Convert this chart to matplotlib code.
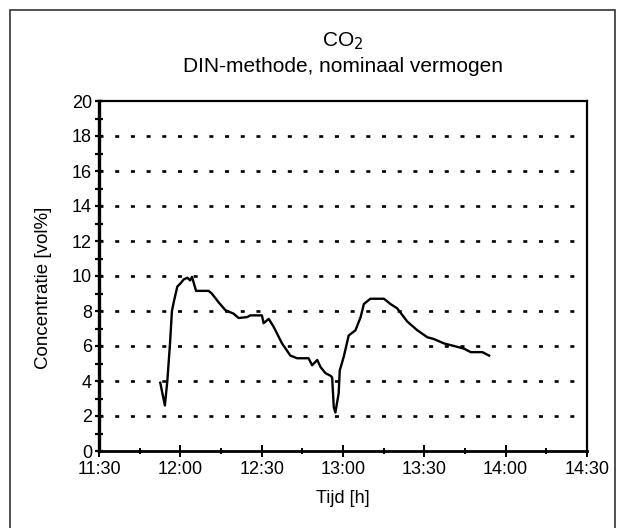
import numpy as np
import matplotlib
matplotlib.use('Agg')
import matplotlib.pyplot as plt
from matplotlib.patches import Rectangle
from matplotlib.ticker import MultipleLocator

plt.rcParams['font.family'] = ['Liberation Sans', 'DejaVu Sans']
plt.rcParams['font.size'] = 13
plt.rcParams['lines.scale_dashes'] = False

# meting: minuten na 11:30 en CO2-concentratie [vol%]
tijd_min = [22.6, 24.3, 25.2, 26.2, 26.9, 27.7, 28.9, 30.2, 31.2, 32.6, 33.6, 34.3,
            35.8, 40.4, 41.6, 44.1, 46.6, 49.6, 51.5, 54.6, 55.8, 60.1, 60.7, 62.6,
            64.4, 67.5, 70.6, 73.1, 77.3, 78.6, 80.5, 81.7, 83.5, 85.4, 86.0, 86.6,
            87.2, 88.4, 88.8, 90.3, 92.1, 94.6, 96.5, 97.7, 100.1, 105.1, 107.5,
            110.0, 113.7, 117.4, 121.1, 123.5, 127.2, 132.2, 134.6, 137.1, 141.4, 143.9]
co2 = [3.9, 2.6, 4.0, 6.15, 8.0, 8.6, 9.4, 9.6, 9.8, 9.9, 9.75, 9.95,
       9.15, 9.15, 9.0, 8.5, 8.05, 7.85, 7.6, 7.65, 7.75, 7.75, 7.3, 7.55,
       7.1, 6.15, 5.45, 5.3, 5.3, 4.9, 5.2, 4.8, 4.45, 4.3, 4.2, 2.5,
       2.2, 3.3, 4.6, 5.4, 6.6, 6.9, 7.65, 8.4, 8.7, 8.7, 8.4,
       8.15, 7.4, 6.9, 6.5, 6.4, 6.15, 5.95, 5.85, 5.65, 5.65, 5.45]

x_ticks = [0, 30, 60, 90, 120, 150, 180]
x_labels = ['11:30', '12:00', '12:30', '13:00', '13:30', '14:00', '14:30']
y_ticks = [0, 2, 4, 6, 8, 10, 12, 14, 16, 18, 20]

fig = plt.figure(figsize=(6.23, 5.28), dpi=100)
ax = fig.add_axes([99 / 623, 77 / 528, 488 / 623, 350 / 528])

# kader rond de hele grafiek
fig.patches.append(Rectangle((10 / 623, -0.05), 605 / 623, 1.05 - 10 / 528,
                             transform=fig.transFigure, fill=False,
                             edgecolor='#333333', linewidth=1.2))

for y in y_ticks[1:-1]:
    ax.axhline(y, color='black', linewidth=1.9, linestyle=(0, (2.9, 8.4)), zorder=1)

ax.plot(tijd_min, co2, color='black', linewidth=1.7, zorder=3)

ax.set_xlim(0, 180)
ax.set_ylim(0, 20)
ax.set_xticks(x_ticks)
ax.set_xticklabels(x_labels)
ax.set_yticks(y_ticks)
ax.xaxis.set_minor_locator(MultipleLocator(15))
ax.yaxis.set_minor_locator(MultipleLocator(1))
ax.tick_params(axis='x', which='major', direction='inout', length=9, width=1.4, pad=3)
ax.tick_params(axis='x', which='minor', direction='inout', length=5, width=1.4)
ax.tick_params(axis='y', which='both', direction='inout', length=6, width=1.6, pad=2)

ax.spines['left'].set_linewidth(2.4)
ax.spines['bottom'].set_linewidth(2.0)
ax.spines['top'].set_linewidth(1.6)
ax.spines['right'].set_linewidth(1.6)

ax.set_xlabel('Tijd [h]', fontsize=13, labelpad=8)
ax.set_ylabel('Concentratie [vol%]', fontsize=13.5)
ax.yaxis.set_label_coords(-0.096, 0.466)
fig.text(343 / 623, 1 - 41 / 528, 'CO$_2$', ha='center', va='center', fontsize=15)
fig.text(343 / 623, 1 - 66 / 528, 'DIN-methode, nominaal vermogen',
         ha='center', va='center', fontsize=15)

fig.savefig('out.png', dpi=100)
